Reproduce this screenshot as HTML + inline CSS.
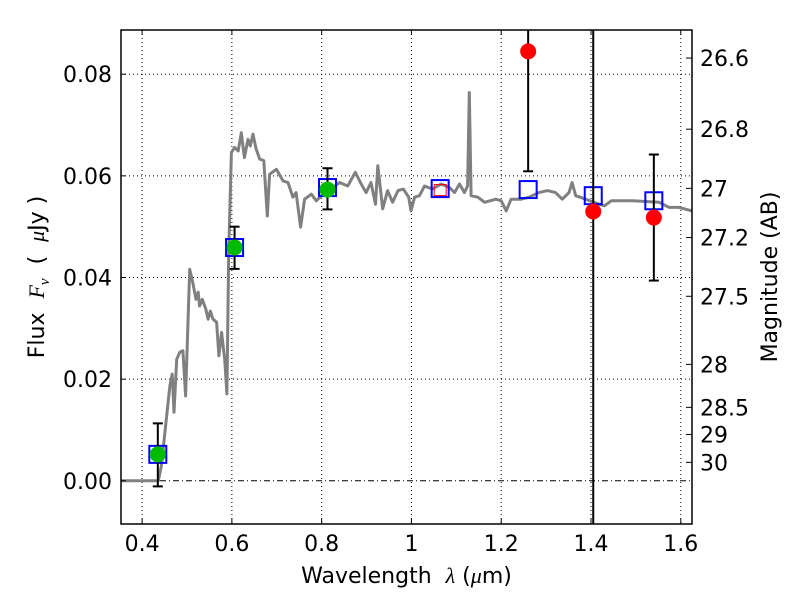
<!DOCTYPE html>
<html><head><meta charset="utf-8"><style>
body{margin:0;background:#fff;}
svg{display:block;font-family:"DejaVu Sans","Liberation Sans",sans-serif;}
.pre{white-space:pre;}
</style></head><body>
<svg id="chart" width="800" height="600" viewBox="0 0 800 600"></svg>
<script>
const specWave=[0.353,0.436,0.443,0.454,0.462,0.467,0.471,0.477,0.484,0.491,0.497,0.506,0.513,0.520,0.525,0.528,0.534,0.542,0.547,0.552,0.558,0.566,0.571,0.577,0.584,0.589,0.593,0.599,0.606,0.614,0.621,0.628,0.636,0.641,0.647,0.654,0.662,0.671,0.679,0.684,0.699,0.714,0.725,0.736,0.743,0.753,0.762,0.777,0.788,0.799,0.825,0.840,0.858,0.875,0.888,0.899,0.910,0.920,0.925,0.936,0.947,0.958,0.970,0.982,0.994,0.999,1.007,1.018,1.029,1.047,1.066,1.085,1.096,1.107,1.118,1.125,1.129,1.133,1.148,1.163,1.188,1.200,1.211,1.222,1.244,1.262,1.284,1.303,1.321,1.336,1.351,1.358,1.366,1.388,1.419,1.430,1.445,1.493,1.552,1.574,1.596,1.625];
const specFlux=[0,0,0.0030,0.0121,0.0187,0.0210,0.0135,0.0239,0.0253,0.0256,0.0167,0.0416,0.0390,0.0357,0.0371,0.0344,0.0357,0.0338,0.0318,0.0334,0.0318,0.0312,0.0246,0.0292,0.0239,0.0171,0.0449,0.0646,0.0656,0.0649,0.0685,0.0636,0.0672,0.0659,0.0682,0.0653,0.0633,0.0630,0.0521,0.0603,0.0613,0.0590,0.0587,0.0558,0.0567,0.0499,0.0554,0.0564,0.0551,0.0561,0.0577,0.0587,0.0580,0.0607,0.0584,0.0567,0.0587,0.0544,0.0620,0.0535,0.0571,0.0548,0.0571,0.0574,0.0558,0.0531,0.0558,0.0561,0.0580,0.0574,0.0584,0.0577,0.0567,0.0584,0.0567,0.0580,0.0764,0.0561,0.0558,0.0548,0.0554,0.0551,0.0531,0.0554,0.0554,0.0558,0.0567,0.0571,0.0567,0.0554,0.0567,0.0587,0.0561,0.0554,0.0544,0.0541,0.0551,0.0551,0.0548,0.0538,0.0538,0.0531];
const modelWave=[0.435,0.606,0.813,1.064,1.26,1.405,1.54];
const modelFlux=[0.0052,0.0459,0.0577,0.0575,0.0573,0.0561,0.0551];
const detWave=[0.435,0.606,0.813];
const detFlux=[0.0052,0.0459,0.0573];
const detLo=[-0.0011,0.0417,0.0534];
const detHi=[0.0113,0.0500,0.0615];
const nirWave=[1.26,1.405,1.54];
const nirFlux=[0.0845,0.0530,0.0518];
const nirLo=[0.0609,-0.02,0.0394];
const nirHi=[0.12,0.12,0.0642];
const xTicks=[0.4,0.6,0.8,1.0,1.2,1.4,1.6];
const xTickLabels=["0.4","0.6","0.8","1","1.2","1.4","1.6"];
const yTicks=[0,0.02,0.04,0.06,0.08];
const yTickLabels=["0.00","0.02","0.04","0.06","0.08"];
const magTicks=[26.6,26.8,27,27.2,27.5,28,28.5,29,30];
const magLabels=["26.6","26.8","27","27.2","27.5","28","28.5","29","30"];

const L=121,R=692,T=30,B=524,X0=0.353,X1=1.625,Y0=-0.0085,Y1=0.0887;
const sx=v=>L+(v-X0)/(X1-X0)*(R-L);
const sy=v=>B-(v-Y0)/(Y1-Y0)*(B-T);
const NS="http://www.w3.org/2000/svg";
const svg=document.getElementById('chart');
function mk(tag,attrs,parent){const e=document.createElementNS(NS,tag);for(const k in attrs)e.setAttribute(k,attrs[k]);(parent||svg).appendChild(e);return e;}

const defs=mk('defs',{});const cp=mk('clipPath',{id:'clip'},defs);mk('rect',{x:L,y:T,width:R-L,height:B-T},cp);
const plot=mk('g',{'clip-path':'url(#clip)'});



xTicks.forEach((t,i)=>{
 const g=mk('line',{x1:sx(t),x2:sx(t),y1:T,y2:B,stroke:'#000','stroke-width':1,'stroke-dasharray':'1,3'},plot);
 
 
 mk('line',{x1:sx(t),x2:sx(t),y1:B,y2:B-5,stroke:'#000'});
 mk('line',{x1:sx(t),x2:sx(t),y1:T,y2:T+5,stroke:'#000'});
 const tx=mk('text',{x:sx(t),y:B+27,'font-size':22,'text-anchor':'middle'});tx.textContent=xTickLabels[i];
 
 
});
yTicks.forEach((t,i)=>{
 const g=mk('line',{x1:L,x2:R,y1:sy(t),y2:sy(t),stroke:'#000','stroke-width':1,'stroke-dasharray':t===0?'6,3,1,3':'1,3'},plot);
 
 
 mk('line',{x1:L,x2:L+5,y1:sy(t),y2:sy(t),stroke:'#000'});
 const tx=mk('text',{x:L-9,y:sy(t)+8,'font-size':22,'text-anchor':'end'});tx.textContent=yTickLabels[i];
 
 
});
magTicks.forEach((m,i)=>{
 const f=Math.pow(10,(23.9-m)/2.5);const y=sy(f);
 mk('line',{x1:R,x2:R-6,y1:y,y2:y,stroke:'#000'});
 const tx=mk('text',{x:R+8,y:y+8,'font-size':22});tx.textContent=magLabels[i];
 
 
});

let d='';specWave.forEach((w,i)=>{d+=(i?'L':'M')+sx(w).toFixed(1)+','+sy(specFlux[i]).toFixed(1);});
const sp=mk('path',{d:d,fill:'none',stroke:'#808080','stroke-width':3,'stroke-linejoin':'round'},plot);



function errbar(x,lo,hi){
 mk('line',{x1:sx(x),x2:sx(x),y1:sy(lo),y2:sy(hi),stroke:'#000','stroke-width':2},plot);
 [lo,hi].forEach(v=>mk('line',{x1:sx(x)-5,x2:sx(x)+5,y1:sy(v),y2:sy(v),stroke:'#000','stroke-width':2},plot));
}
modelWave.forEach((w,i)=>{
 const r=mk('rect',{x:sx(w)-8.5,y:sy(modelFlux[i])-8.5,width:17,height:17,fill:'none',stroke:'#0000ff','stroke-width':2},plot);
 
 
});
const rs=mk('rect',{x:sx(modelWave[3])-6,y:sy(modelFlux[3])-4,width:12,height:11,fill:'none',stroke:'#ff0000','stroke-width':1},plot);


detWave.forEach((w,i)=>{
 errbar(w,detLo[i],detHi[i]);
 const c=mk('circle',{cx:sx(w),cy:sy(detFlux[i]),r:8,fill:'#00bb00'},plot);
 
 
});
nirWave.forEach((w,i)=>{
 errbar(w,nirLo[i],nirHi[i]);
 const c=mk('circle',{cx:sx(w),cy:sy(nirFlux[i]),r:8,fill:'#ff0000'},plot);
 
 
});

const fr=mk('rect',{x:L,y:T,width:R-L,height:B-T,fill:'none',stroke:'#000','stroke-width':1.5});



const xl=mk('text',{x:(L+R)/2,y:583,'font-size':22,'text-anchor':'middle','class':'pre'});
xl.innerHTML='Wavelength  <tspan font-style="italic" font-family="Liberation Serif,serif">λ</tspan> (<tspan font-style="italic" font-family="Liberation Serif,serif">μ</tspan>m)';


const yl=mk('text',{x:0,y:0,'font-size':22,'text-anchor':'middle','class':'pre',transform:'translate(44,'+((T+B)/2)+') rotate(-90)'});
yl.innerHTML='Flux  <tspan font-style="italic" font-family="Liberation Serif,serif">F</tspan><tspan font-style="italic" font-family="Liberation Serif,serif" font-size="15" dy="5">ν</tspan><tspan dy="-5">  (  </tspan><tspan font-style="italic" font-family="Liberation Serif,serif">μ</tspan>Jy )';


const rl=mk('text',{x:0,y:0,'font-size':22,'text-anchor':'middle',transform:'translate(777,'+((T+B)/2)+') rotate(-90)'});
rl.textContent='Magnitude (AB)';


</script>
</body></html>
